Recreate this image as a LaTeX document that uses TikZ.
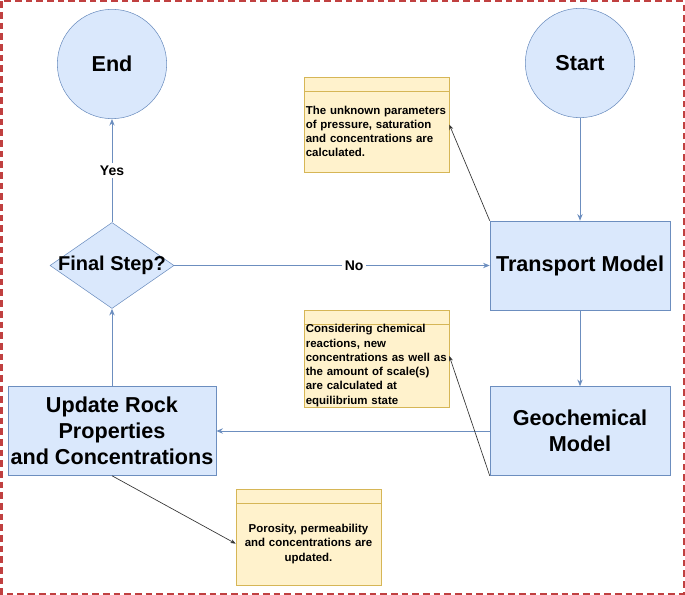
\documentclass[tikz,border=0pt]{standalone}
\usepackage{fontspec}
\setmainfont{Liberation Sans}
\usetikzlibrary{shapes.geometric, arrows.meta, positioning}

\definecolor{boxblue}{HTML}{DAE8FC}
\definecolor{lineblue}{HTML}{6C8EBF}
\definecolor{noteyellow}{HTML}{FFF2CC}
\definecolor{noteline}{HTML}{D6B656}
\definecolor{framered}{RGB}{192,64,64}

\begin{document}
\begin{tikzpicture}[x=0.75pt, y=-0.75pt,
    process/.style={draw=lineblue, fill=boxblue, minimum width=135pt, minimum height=66.75pt, align=center, inner sep=0pt, font=\bfseries\fontsize{16.2}{19.5}\selectfont},
    terminal/.style={circle, draw=lineblue, fill=boxblue, minimum size=82pt, inner sep=0pt, font=\bfseries\fontsize{16.2}{19.5}\selectfont},
    decision/.style={diamond, draw=lineblue, fill=boxblue, minimum width=93pt, minimum height=64.5pt, inner sep=0pt},
    note/.style={draw=noteline, fill=noteyellow, minimum width=108.75pt, minimum height=71.25pt, inner sep=0pt,
        path picture={\draw[noteline] ([yshift=-10.5pt]path picture bounding box.north west) -- ([yshift=-10.5pt]path picture bounding box.north east);}},
    notetext/.style={text width=112pt, align=left, inner sep=0pt, font=\bfseries\fontsize{8.6}{10.7}\selectfont},
    flow/.style={draw=lineblue, line width=0.75pt, -{Stealth[length=5pt, width=4pt]}},
    pointer/.style={draw=black!80, line width=0.5pt, -{Stealth[length=4pt, width=3pt]}},
    answer/.style={fill=white, inner sep=2pt, font=\bfseries\fontsize{10.5}{12}\selectfont}]
    \useasboundingbox (0,0) rectangle (685,595);
    % Dashed frame
    \draw[draw=framered, line width=1.5pt, dash pattern=on 5pt off 3pt] (1.5,1.5) rectangle (683.5,593.5);
    % Start, end and the decision
    \node[terminal] (start) at (580,63) {Start};
    \node[terminal] (end) at (112,64) {End};
    \node[decision, label={[font=\bfseries\fontsize{15}{18}\selectfont]center:Final Step?}] (final) at (112,265.5) {};
    % Model boxes
    \node[process] (transport) at (580,265.5) {Transport Model};
    \node[process] (geochem) at (580,431) {Geochemical\\Model};
    \node[process, minimum width=156pt] (update) at (112,431) {Update Rock\\Properties\\and Concentrations};
    % Notes
    \node[note] (note1) at (376.5,124.5) {};
    \node[notetext] (note1txt) at ([xshift=3pt, yshift=-5.25pt]note1.center) {The unknown parameters\\of pressure, saturation\\and concentrations are\\calculated.};
    \node[note, minimum height=72.75pt] (note2) at (376.5,358.5) {};
    \node[notetext] (note2txt) at ([xshift=3pt, yshift=-5.25pt]note2.center) {Considering chemical\\reactions, new\\concentrations as well as\\the amount of scale(s)\\are calculated at\\equilibrium state};
    \node[note, minimum height=72pt] (note3) at (308.5,537) {};
    \node[notetext, align=center] (note3txt) at ([yshift=-5.25pt]note3.center) {Porosity, permeability\\and concentrations are\\updated.};
    % Flow
    \draw[flow] (start) -- (transport);
    \draw[flow] (transport) -- (geochem);
    \draw[flow] (geochem) -- (update);
    \draw[flow] (update) -- (final);
    \draw[flow] (final) -- node[answer, pos=0.57] {No} (transport);
    \draw[flow] (final) -- node[answer] {Yes} (end);
    % Pointers to the notes
    \draw[pointer] (transport.north west) -- (note1.east);
    \draw[pointer] (geochem.south west) -- ([yshift=2pt]note2.east);
    \draw[pointer] (update.south) -- ([yshift=-5pt]note3.west);
\end{tikzpicture}
\end{document}
